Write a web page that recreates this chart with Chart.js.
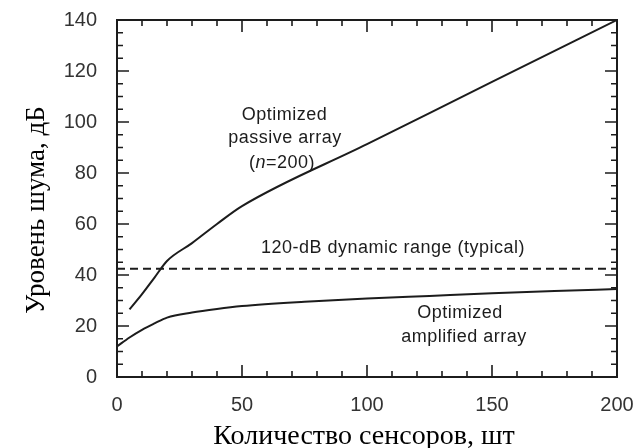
<!DOCTYPE html>
<html>
<head>
<meta charset="utf-8">
<script src="https://cdn.jsdelivr.net/npm/chart.js@4.4.1/dist/chart.umd.min.js"></script>
<style>
  html, body { margin: 0; padding: 0; background: #fff; }
  #wrap { width: 644px; height: 448px; }
</style>
</head>
<body>
<div id="wrap"><canvas id="chart" width="644" height="448"></canvas></div>
<script>
// values
const passiveX = [5, 10, 15, 20, 30, 40, 50, 100, 150, 200];
const passiveY = [26.5, 32.5, 39, 45.5, 52.5, 60, 67, 91.3, 115.7, 140];
const amplifiedX = [0, 5, 10, 15, 20, 30, 40, 50, 75, 100, 125, 150, 175, 200];
const amplifiedY = [12, 15.5, 18.5, 21, 23.3, 25.3, 26.7, 27.8, 29.5, 30.8, 31.8, 32.8, 33.7, 34.5];
const dynamicRangeX = [0, 200];
const dynamicRangeY = [42.5, 42.5];
const xTicks = [0, 50, 100, 150, 200];
const yTicks = [0, 20, 40, 60, 80, 100, 120, 140];

const xTitle = 'Количество сенсоров, шт';
const yTitle = 'Уровень шума, дБ';

// text notes in the plot, anchored in data units
const notes = [
  { text: 'Optimized', x: 67, y: 102.7 },
  { text: 'passive array', x: 67.2, y: 93.7 },
  { text: '120-dB dynamic range (typical)', x: 110.4, y: 50.6 },
  { text: 'Optimized', x: 137.2, y: 24.9 },
  { text: 'amplified array', x: 138.8, y: 15.7 },
];
const passiveNote = { x: 66, y: 83.9 }; // "(n=200)"

const ink = '#1c1c1c';
const noteFont = '18px "Liberation Sans", Arial, sans-serif';

function toPoints(xs, ys) {
  return xs.map((x, i) => ({ x, y: ys[i] }));
}

// keep the plot box where the reference has it: no extra room for label overhang
function noOverhang(scale) {
  scale.paddingLeft = 0;
  scale.paddingRight = 0;
  scale.paddingTop = 0;
  scale.paddingBottom = 0;
}

const frameAndText = {
  id: 'frameAndText',
  afterDraw(chart) {
    const { ctx, chartArea: area, scales } = chart;
    const xs = scales.x;
    const ys = scales.y;
    ctx.save();
    ctx.strokeStyle = ink;
    ctx.lineWidth = 2;
    ctx.strokeRect(area.left, area.top, area.right - area.left, area.bottom - area.top);

    // inward ticks on all four sides
    ctx.lineWidth = 1.6;
    ctx.beginPath();
    for (let v = 0; v <= 200; v += 10) {
      const px = xs.getPixelForValue(v);
      const len = v % 50 === 0 ? 12 : 6;
      ctx.moveTo(px, area.bottom); ctx.lineTo(px, area.bottom - len);
      ctx.moveTo(px, area.top); ctx.lineTo(px, area.top + len);
    }
    for (let v = 0; v <= 140; v += 5) {
      const py = ys.getPixelForValue(v);
      const len = v % 20 === 0 ? 12 : 6;
      ctx.moveTo(area.left, py); ctx.lineTo(area.left + len, py);
      ctx.moveTo(area.right, py); ctx.lineTo(area.right - len, py);
    }
    ctx.stroke();

    // notes
    ctx.fillStyle = ink;
    ctx.font = noteFont;
    ctx.letterSpacing = '0.5px';
    ctx.textAlign = 'center';
    ctx.textBaseline = 'middle';
    notes.forEach((n) => {
      ctx.fillText(n.text, xs.getPixelForValue(n.x), ys.getPixelForValue(n.y));
    });

    // "(n=200)" with italic n
    const parts = [
      { t: '(', f: noteFont },
      { t: 'n', f: 'italic ' + noteFont },
      { t: '=200)', f: noteFont },
    ];
    let total = 0;
    parts.forEach((p) => { ctx.font = p.f; p.w = ctx.measureText(p.t).width; total += p.w; });
    let cx = xs.getPixelForValue(passiveNote.x) - total / 2;
    const cy = ys.getPixelForValue(passiveNote.y);
    ctx.textAlign = 'left';
    parts.forEach((p) => { ctx.font = p.f; ctx.fillText(p.t, cx, cy); cx += p.w; });
    ctx.letterSpacing = '0px';

    // axis titles
    ctx.fillStyle = '#000';
    ctx.textAlign = 'center';
    ctx.font = '28px "Liberation Serif", "Times New Roman", serif';
    ctx.fillText(xTitle, (area.left + area.right) / 2 - 3, 437);
    ctx.font = '27px "Liberation Serif", "Times New Roman", serif';
    ctx.translate(37, 210);
    ctx.rotate(-Math.PI / 2);
    ctx.fillText(yTitle, 0, 0);
    ctx.restore();
  },
};

new Chart(document.getElementById('chart'), {
  type: 'line',
  data: {
    datasets: [
      {
        label: 'Optimized passive array',
        data: toPoints(passiveX, passiveY),
        borderColor: ink,
        borderWidth: 2,
        pointRadius: 0,
        cubicInterpolationMode: 'monotone',
      },
      {
        label: 'Optimized amplified array',
        data: toPoints(amplifiedX, amplifiedY),
        borderColor: ink,
        borderWidth: 2,
        pointRadius: 0,
        cubicInterpolationMode: 'monotone',
      },
      {
        label: '120-dB dynamic range (typical)',
        data: toPoints(dynamicRangeX, dynamicRangeY),
        borderColor: ink,
        borderWidth: 2,
        borderDash: [8, 5],
        pointRadius: 0,
      },
    ],
  },
  options: {
    responsive: false,
    animation: false,
    layout: { padding: { top: 20, right: 27, left: 0, bottom: 0 } },
    plugins: { legend: { display: false }, tooltip: { enabled: false } },
    scales: {
      x: {
        type: 'linear',
        min: 0,
        max: 200,
        afterBuildTicks: (scale) => { scale.ticks = xTicks.map((value) => ({ value })); },
        afterFit: (scale) => { scale.height = 71; noOverhang(scale); },
        grid: { display: false, drawTicks: false },
        border: { display: false },
        ticks: {
          padding: 16,
          color: '#333',
          font: { family: '"Liberation Sans", Arial, sans-serif', size: 20 },
          maxRotation: 0,
        },
      },
      y: {
        type: 'linear',
        min: 0,
        max: 140,
        afterBuildTicks: (scale) => { scale.ticks = yTicks.map((value) => ({ value })); },
        afterFit: (scale) => { scale.width = 117; noOverhang(scale); },
        grid: { display: false, drawTicks: false },
        border: { display: false },
        ticks: {
          padding: 20,
          color: '#333',
          font: { family: '"Liberation Sans", Arial, sans-serif', size: 20 },
        },
      },
    },
  },
  plugins: [frameAndText],
});
</script>
</body>
</html>
